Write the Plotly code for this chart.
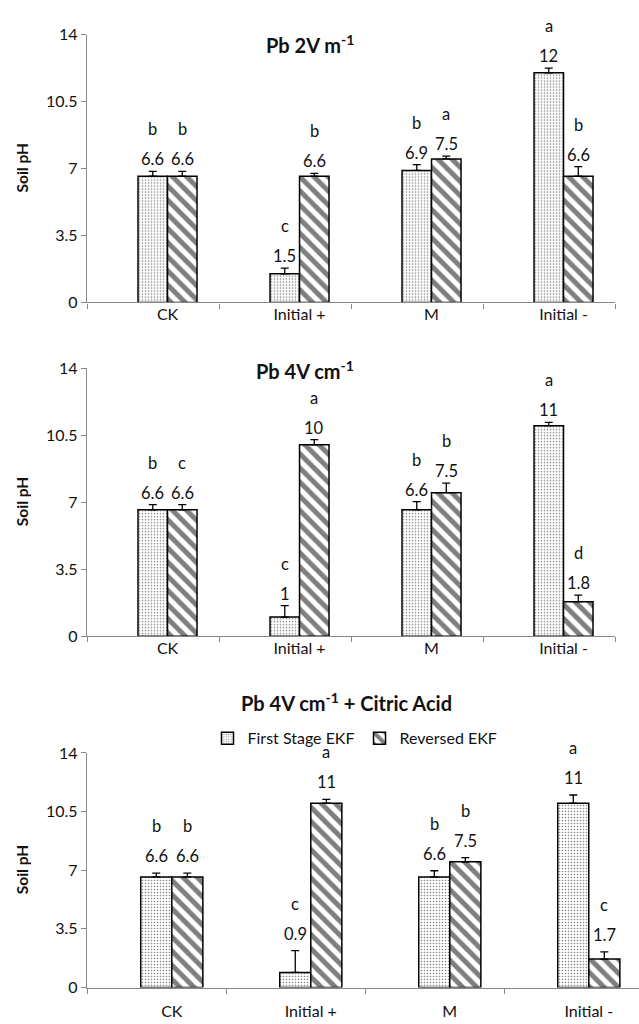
import plotly.graph_objects as go

categories = ["CK", "Initial +", "M", "Initial -"]
series_names = ["First Stage EKF", "Reversed EKF"]

# Panel 1: Pb 2V m-1
p1_first = [6.6, 1.5, 6.9, 12]
p1_rev = [6.6, 6.6, 7.5, 6.6]
p1_first_err = [0.25, 0.3, 0.3, 0.25]
p1_rev_err = [0.25, 0.15, 0.15, 0.5]
p1_first_let = ["b", "c", "b", "a"]
p1_rev_let = ["b", "b", "a", "b"]

# Panel 2: Pb 4V cm-1
p2_first = [6.6, 1, 6.6, 11]
p2_rev = [6.6, 10, 7.5, 1.8]
p2_first_err = [0.27, 0.6, 0.43, 0.17]
p2_rev_err = [0.27, 0.27, 0.5, 0.34]
p2_first_let = ["b", "c", "b", "a"]
p2_rev_let = ["c", "a", "b", "d"]

# Panel 3: Pb 4V cm-1 + Citric Acid
p3_first = [6.6, 0.9, 6.6, 11]
p3_rev = [6.6, 11, 7.5, 1.7]
p3_first_err = [0.23, 1.3, 0.37, 0.49]
p3_rev_err = [0.23, 0.23, 0.25, 0.43]
p3_first_let = ["b", "c", "b", "a"]
p3_rev_let = ["b", "a", "b", "c"]

titles = ["Pb 2V m<sup>-1</sup>", "Pb 4V cm<sup>-1</sup>", "Pb 4V cm<sup>-1</sup> + Citric Acid"]
y_ticks = [0, 3.5, 7, 10.5, 14]
y_ticktext = ["0", "3.5", "7", "10.5", "14"]

panels = [
    (p1_first, p1_rev, p1_first_err, p1_rev_err, p1_first_let, p1_rev_let),
    (p2_first, p2_rev, p2_first_err, p2_rev_err, p2_first_let, p2_rev_let),
    (p3_first, p3_rev, p3_first_err, p3_rev_err, p3_first_let, p3_rev_let),
]

W, H = 639, 1024
ML = 87
PW = W - ML
FONT = "Lato"
AX = "#868686"
TXT = "#111111"
FS = 16

# pixel geometry for each panel: (top_px, bottom_px, right_px, cat_width_px, label_standoff, val_shift, let_shift)
geom = [
    (25, 298, 615, 132, -3, 12, 42),
    (365, 638, 615, 132, -3, 12, 42),
    (757, 996, 639, 139, 9, 17, 47),
]
title_pos = [(310, 35), (305, 367), (346, 705)]

BARGAP = 0.553
bw = (1 - BARGAP) / 2
left_off = 0.61

fig = go.Figure()
xs = list(range(len(categories)))

def fmt(v):
    return str(int(v)) if float(v).is_integer() else str(v)

for i, (f, r, fe, re_, fl, rl) in enumerate(panels):
    xa = "x" if i == 0 else f"x{i+1}"
    ya = "y" if i == 0 else f"y{i+1}"
    top, bot, right, cw, standoff, vs, ls = geom[i]
    fig.add_trace(go.Bar(
        x=xs, y=f, name=series_names[0], xaxis=xa, yaxis=ya,
        showlegend=(i == 2), legendgroup="a",
        marker=dict(color="white", line=dict(color="black", width=1.5),
                    pattern=dict(shape=".", size=3, solidity=0.22, fgcolor="black", bgcolor="white")),
        error_y=dict(type="data", symmetric=False, array=fe, arrayminus=[0] * len(fe),
                     color="black", thickness=1.3, width=4),
    ))
    fig.add_trace(go.Bar(
        x=xs, y=r, name=series_names[1], xaxis=xa, yaxis=ya,
        showlegend=(i == 2), legendgroup="b",
        marker=dict(color="white", line=dict(color="black", width=1.5),
                    pattern=dict(shape="\\", size=10, solidity=0.5, fgcolor="black", bgcolor="white")),
        error_y=dict(type="data", symmetric=False, array=re_, arrayminus=[0] * len(re_),
                     color="black", thickness=1.3, width=4),
    ))
    x0 = -left_off
    x1 = x0 + (right - ML) / cw
    xdom = [0, (right - ML) / PW]
    ydom = [1 - bot / H, 1 - top / H]
    n = "" if i == 0 else str(i + 1)
    fig.layout["xaxis" + n] = dict(
        domain=xdom, range=[x0, x1], anchor=ya, showline=True, linecolor=AX, linewidth=1.3,
        showgrid=False, zeroline=False, tickmode="array", tickvals=xs, ticktext=categories,
        ticks="", ticklabelstandoff=standoff, tickfont=dict(size=FS, color=TXT, family=FONT),
        minor=dict(tickmode="array", tickvals=[k - left_off for k in range(len(categories) + 1)],
                   ticks="outside", ticklen=5, tickcolor=AX, tickwidth=1.3, showgrid=False),
        fixedrange=True,
    )
    fig.layout["yaxis" + n] = dict(
        domain=ydom, range=[0, 14], anchor=xa, showline=True, linecolor=AX, linewidth=1.3,
        showgrid=False, zeroline=False, tickmode="array", tickvals=y_ticks, ticktext=y_ticktext,
        ticks="outside", ticklen=5, tickcolor=AX, tickwidth=1.3,
        tickfont=dict(size=FS, color=TXT, family=FONT),
    )
    # value labels and letters
    for vals, errs, lets, off in ((f, fe, fl, -bw / 2), (r, re_, rl, bw / 2)):
        for k in range(len(categories)):
            ytop = vals[k] + errs[k]
            fig.add_annotation(x=k + off, y=ytop, xref=xa, yref=ya, text=fmt(vals[k]),
                               showarrow=False, yshift=vs, yanchor="middle",
                               font=dict(size=FS + 0.5, color=TXT, family=FONT))
            fig.add_annotation(x=k + off, y=ytop, xref=xa, yref=ya, text=lets[k],
                               showarrow=False, yshift=ls, yanchor="middle",
                               font=dict(size=FS + 0.5, color=TXT, family=FONT))
    # title
    tx, ty = title_pos[i]
    fig.add_annotation(x=(tx - ML) / PW, y=1 - ty / H, xref="paper", yref="paper",
                       text="<b>" + titles[i] + "</b>", showarrow=False,
                       xanchor="center", yanchor="middle",
                       font=dict(size=20, color=TXT, family=FONT))
    # y-axis title
    fig.add_annotation(x=(22 - ML) / PW, y=1 - (top + bot) / 2 / H, xref="paper", yref="paper",
                       text="<b>Soil pH</b>", showarrow=False, textangle=-90,
                       xanchor="center", yanchor="middle",
                       font=dict(size=15.5, color=TXT, family=FONT))

fig.update_layout(
    width=W, height=H, margin=dict(l=ML, r=0, t=0, b=0),
    paper_bgcolor="white", plot_bgcolor="white",
    barmode="group", bargap=BARGAP, bargroupgap=0,
    font=dict(family=FONT, color=TXT),
    legend=dict(orientation="h", x=(355 - ML) / PW, xanchor="center", y=1 - 742 / H,
                yanchor="middle", font=dict(size=FS, family=FONT, color=TXT),
                bgcolor="rgba(0,0,0,0)", itemwidth=30),
)

fig.write_html("out.html")
